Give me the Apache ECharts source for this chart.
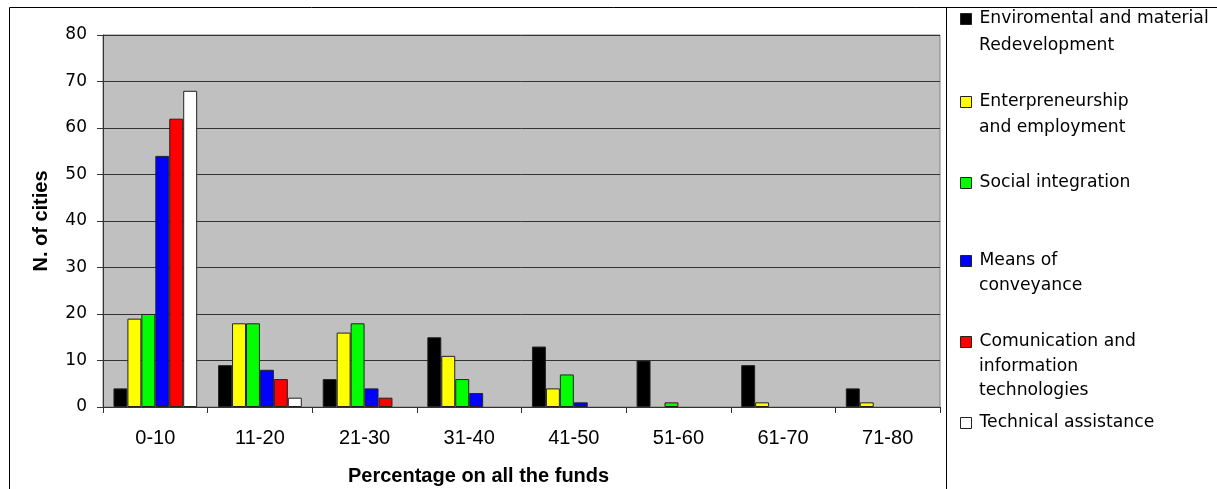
<!DOCTYPE html>
<html>
<head>
<meta charset="utf-8">
<script src="https://cdn.jsdelivr.net/npm/echarts@6/dist/echarts.min.js"></script>
<style>
html,body{margin:0;padding:0;background:#fff;}
#chart{width:1217px;height:489px;}
</style>
</head>
<body>
<div id="chart"></div>
<script>
const categories = ['0-10','11-20','21-30','31-40','41-50','51-60','61-70','71-80'];
const seriesNames = [
  'Enviromental and material Redevelopment',
  'Enterpreneurship and employment',
  'Social integration',
  'Means of conveyance',
  'Comunication and information technologies',
  'Technical assistance'
];
const legendLines = [
  ['Enviromental and material','Redevelopment'],
  ['Enterpreneurship','and employment'],
  ['Social integration'],
  ['Means of','conveyance'],
  ['Comunication and','information','technologies'],
  ['Technical assistance']
];
const envMaterial   = [4, 9, 6, 15, 13, 10, 9, 4];
const entrepreneur  = [19, 18, 16, 11, 4, 0, 1, 1];
const socialInteg   = [20, 18, 18, 6, 7, 1, 0, 0];
const conveyance    = [54, 8, 4, 3, 1, 0, 0, 0];
const communication = [62, 6, 2, 0, 0, 0, 0, 0];
const techAssist    = [68, 2, 0, 0, 0, 0, 0, 0];
const yTicks = [0, 10, 20, 30, 40, 50, 60, 70, 80];

const seriesData = [envMaterial, entrepreneur, socialInteg, conveyance, communication, techAssist];
const colors = ['#000000','#FFFF00','#00FF00','#0000FF','#FF0000','#FFFFFF'];
const legendY = [[19, 46], [102, 128], [183], [261, 286], [342, 367, 391], [423]];
const legendFont = 'DejaVu Sans';
const legendSize = 17.2;

const chart = echarts.init(document.getElementById('chart'), null, {renderer:'canvas'});

const legends = seriesNames.map((n, i) => ({
  data: [n],
  left: 960,
  top: legendY[i][0] - 10,
  padding: 0,
  itemWidth: 11,
  itemHeight: 11,
  icon: 'rect',
  selectedMode: false,
  formatter: () => legendLines[i][0],
  textStyle: {fontFamily: legendFont, fontSize: legendSize, color: '#000', lineHeight: 20, padding: [0, 0, 0, 3]},
  itemStyle: {borderColor: '#222', borderWidth: 1}
}));

const graphics = [
  {type:'rect', shape:{x:9.5, y:7.5, width:1300, height:600}, style:{fill:'none', stroke:'#000', lineWidth:1}, silent:true},
  {type:'line', shape:{x1:946.5, y1:7, x2:946.5, y2:489}, style:{stroke:'#000', lineWidth:1}, silent:true},
  {type:'text', left: 348, top: 466, style:{text:'Percentage on all the funds', font:'bold 20px "Liberation Sans", Arial, sans-serif', fill:'#000'}}
];
legendLines.forEach((lines, i) => {
  lines.slice(1).forEach((t, j) => {
    graphics.push({type:'text', x: 979, y: legendY[i][j+1], style:{text: t, fontFamily: legendFont, fontSize: legendSize, fill:'#000', verticalAlign:'middle', align:'left'}});
  });
});

const option = {
  backgroundColor: '#ffffff',
  animation: false,
  legend: legends,
  graphic: graphics,
  grid: {left: 103, right: 277, top: 35, bottom: 82, show: true, backgroundColor: '#C0C0C0', borderColor: '#808080', borderWidth: 1},
  xAxis: {
    type: 'category',
    data: categories,
    axisLine: {show: true, lineStyle: {color: '#333', width: 1}},
    axisTick: {show: true, length: 6, lineStyle: {color: '#333'}},
    axisLabel: {color: '#000', fontFamily: '"Liberation Sans", Arial, sans-serif', fontSize: 20, margin: 21}
  },
  yAxis: {
    type: 'value',
    min: yTicks[0], max: yTicks[yTicks.length-1], interval: 10,
    name: 'N. of cities',
    nameLocation: 'middle',
    nameGap: 52,
    nameTextStyle: {fontFamily: '"Liberation Sans", Arial, sans-serif', fontWeight: 'bold', fontSize: 20, color: '#000'},
    axisLine: {show: true, lineStyle: {color: '#333', width: 1}},
    axisTick: {show: true, length: 6, lineStyle: {color: '#333'}},
    splitLine: {show: true, lineStyle: {color: '#333', width: 1}},
    axisLabel: {color: '#000', fontFamily: legendFont, fontSize: 17, margin: 16}
  },
  series: seriesNames.map((n, i) => ({
    name: n,
    type: 'bar',
    data: seriesData[i].map(v => (v === 0 ? null : v)),
    barGap: '0%',
    barCategoryGap: '20%',
    itemStyle: {color: colors[i], borderColor: '#222', borderWidth: 1}
  }))
};
chart.setOption(option);
</script>
</body>
</html>
